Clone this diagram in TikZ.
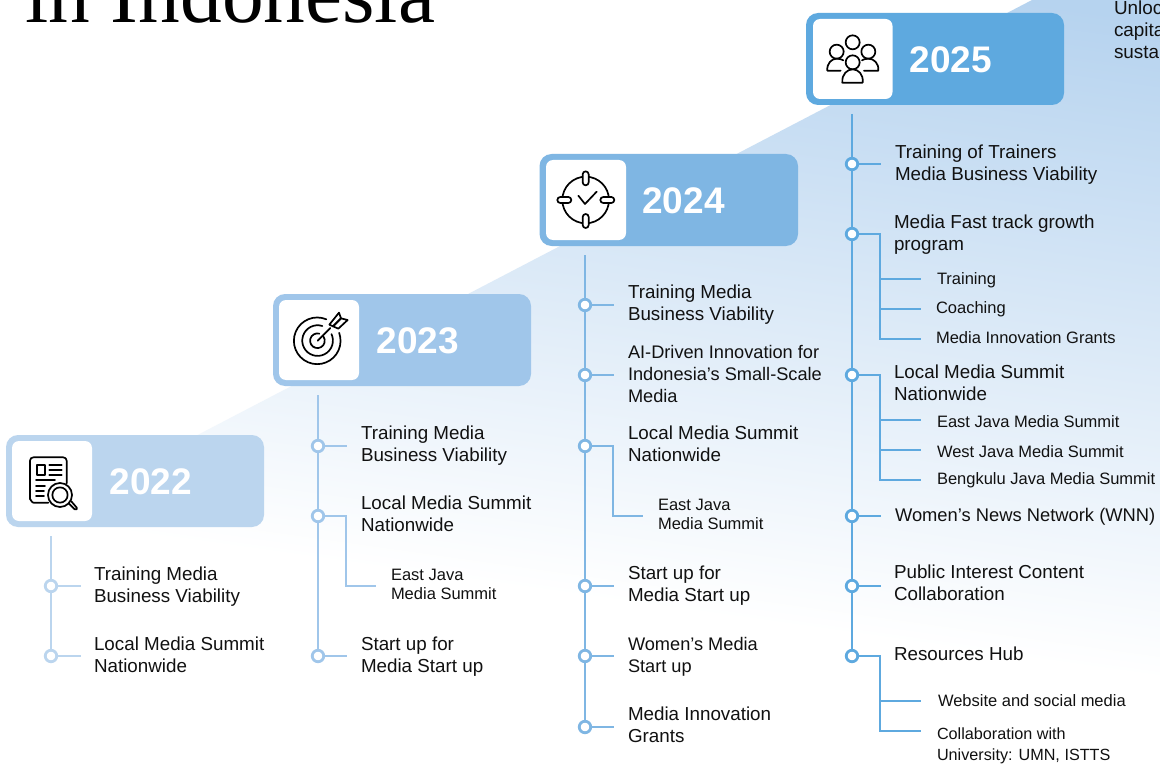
\documentclass[tikz,border=0pt]{standalone}
\usepackage{fontspec}
\setmainfont{Liberation Sans}
\newfontfamily\titleserif{Liberation Serif}
\definecolor{ya}{HTML}{BBD5EE}
\definecolor{yb}{HTML}{A0C6EA}
\definecolor{yc}{HTML}{7FB6E3}
\definecolor{yd}{HTML}{5EA9DF}
\definecolor{bgtop}{HTML}{B6D3EF}
\definecolor{inkblack}{HTML}{111111}
\pgfdeclareverticalshading{wedgefade}{100bp}{color(0bp)=(white); color(39.26bp)=(white); color(71.8bp)=(bgtop); color(100bp)=(bgtop)}
\tikzset{
  lbl/.style={anchor=north west,inner sep=0pt,outer sep=0pt,align=left,text=inkblack,yshift=-0.2pt,font=\fontsize{18.8}{22}\selectfont},
  sublbl/.style={anchor=north west,inner sep=0pt,outer sep=0pt,align=left,text=inkblack,font=\fontsize{16.5}{19}\selectfont},
  card/.style={rounded corners=12pt,draw=none},
  whitecard/.style={fill=white,rounded corners=7pt,draw=none},
  yearlbl/.style={anchor=center,inner sep=0pt,text=white,xshift=0.8pt,yshift=-0.7pt,font=\fontsize{37}{40}\selectfont\bfseries},
  dot/.style={circle,draw=#1,fill=white,line width=2.8pt,minimum size=11.5pt,inner sep=0pt,outer sep=0pt},
  wire/.style={draw=#1,line width=2.8pt},
  ico/.style={draw=black,line width=1.7pt,line cap=round,line join=round},
}
\begin{document}
\begin{tikzpicture}[x=1pt,y=-1pt]
\useasboundingbox (0,0) rectangle (1160,765);
\clip (0,0) rectangle (1160,765);
\fill[white] (0,0) rectangle (1160,765);
% background wedge
\begin{scope}
\clip (1032,0) -- (1160,0) -- (1160,765) -- (0,765) -- (0,538) -- cycle;
\node[inner sep=0pt,outer sep=0pt,transform shape,rotate=-8,scale=20] (bgfade) at (580,380) {\pgfuseshading{wedgefade}};
\end{scope}
% title and cut-off text
\node[anchor=base west,inner sep=0pt,font=\fontsize{83.4}{90}\selectfont\titleserif,text=black] (title) at (25,22.5) {in Indonesia};
\node[lbl,yshift=0.2pt,font=\fontsize{18.9}{22}\selectfont] (side) at (1114,-0.5) {\strut Unloc\\\strut capita\\\strut susta};

% ===== cards
\fill[card,ya] (6,435) rectangle (264,527);
\fill[whitecard] (12,441) rectangle (92,521);
\node[yearlbl] (y22) at (150,481) {2022};
\fill[card,yb] (273,294) rectangle (531,386);
\fill[whitecard] (279,300) rectangle (359,380);
\node[yearlbl] (y23) at (417,340.5) {2023};
\fill[card,yc] (539.5,154) rectangle (798,246);
\fill[whitecard] (546,160) rectangle (626,240);
\node[yearlbl] (y24) at (682.7,200.5) {2024};
\fill[card,yd] (806,13) rectangle (1064,105);
\fill[whitecard] (813,19) rectangle (892.5,99);
\node[yearlbl] (y25) at (950,59.5) {2025};

% ===== icon 2022
\begin{scope}[x=0.33333pt,y=-0.33333pt,shift={(0pt,-420pt)}]
\draw[ico] (145,248) -- (100,248) to[out=180,in=90] (90,238) -- (90,122) to[out=90,in=180] (100,112) -- (190,112) to[out=0,in=90] (200,122) -- (200,190);
\draw[ico] (110,135) rectangle (135,165);
\draw[ico] (148,135) -- (185,135) (148,150) -- (185,150) (148,165) -- (185,165);
\draw[ico] (108,181) -- (165,181) (108,197) -- (135,197) (108,213) -- (132,213) (108,228) -- (132,228);
\draw[ico] (180,225) circle (36);
\draw[ico] (180,225) circle (23);
\draw[ico] (206,250) -- (218,262) to[out=-45,in=-135] (230,268) to[out=45,in=-45] (226,258) -- (214,244);
\end{scope}

% ===== icon 2023
\begin{scope}[x=0.33333pt,y=-0.33333pt,shift={(265pt,-285pt)}]
\draw[ico] (184,103) arc[start angle=-67,end angle=-380,radius=70];
\draw[ico] (172,123) arc[start angle=-72,end angle=-385,radius=46];
\draw[ico] (163,146) arc[start angle=-75,end angle=-395,radius=22];
\draw[ico] (158,167) -- (196,129);
\draw[ico] (193,119) -- (222,83) -- (228,100) -- (204,124) -- (193,119);
\draw[ico] (204,124) -- (228,100) -- (248,105) -- (220,131) -- (204,124);
\end{scope}

% ===== icon 2024
\begin{scope}[x=0.33333pt,y=-0.33333pt,shift={(530pt,-145pt)}]
\draw[ico] (167,165) circle (70);
\foreach \cx/\cy/\hw/\hh in {167/100/9/21,167/228/9/21,103/165/21/9,232/165/21/9}{
  \filldraw[ico,fill=white,rounded corners=3pt] (\cx-\hw,\cy-\hh) rectangle (\cx+\hw,\cy+\hh);
}
\draw[ico] (145,152) -- (165,177) -- (200,140);
\end{scope}

% ===== icon 2025
\begin{scope}[x=0.33333pt,y=-0.33333pt,shift={(800pt,0pt)}]
\draw[ico] (158,127) circle (21);
\draw[ico] (110,155) circle (21);
\draw[ico] (205,155) circle (21);
\draw[ico] (122,212) -- (82,212) .. controls (80,190) and (95,176) .. (110,176) .. controls (118,176) and (125,178) .. (130,181);
\draw[ico] (192,212) -- (235,212) .. controls (237,190) and (222,176) .. (205,176) .. controls (197,176) and (190,178) .. (186,181);
\filldraw[ico,fill=white] (158,187) circle (21);
\draw[ico,fill=white] (127,248) .. controls (125,222) and (142,208) .. (158,208) .. controls (174,208) and (191,222) .. (188,248) -- cycle;
\end{scope}

% ===== 2022 timeline
\coordinate (a0) at (51,536);
\node[dot=ya] (a1) at (51,586) {};
\node[dot=ya] (a2) at (51,656) {};
\coordinate (a1e) at (81,586);
\coordinate (a2e) at (81,656);
\draw[wire=ya] (a0) -- (a1.north);
\draw[wire=ya] (a1.south) -- (a2.north);
\draw[wire=ya] (a1.east) -- (a1e);
\draw[wire=ya] (a2.east) -- (a2e);
\node[lbl] (at1) at (94,565) {\strut Training Media\\\strut Business Viability};
\node[lbl] (at2) at (94,635) {\strut Local Media Summit\\\strut Nationwide};

% ===== 2023 timeline
\coordinate (b0) at (318,395);
\node[dot=yb] (b1) at (318,446) {};
\node[dot=yb] (b2) at (318,516) {};
\node[dot=yb] (b3) at (318,656) {};
\coordinate (b1e) at (347,446);
\coordinate (b3e) at (347,656);
\coordinate (b2c) at (346,586);
\coordinate (b2e) at (376,586);
\draw[wire=yb] (b0) -- (b1.north);
\draw[wire=yb] (b1.south) -- (b2.north);
\draw[wire=yb] (b2.south) -- (b3.north);
\draw[wire=yb] (b1.east) -- (b1e);
\draw[wire=yb] (b3.east) -- (b3e);
\draw[wire=yb,line join=miter] (b2.east) -| (b2c) -- (b2e);
\node[lbl] (bt1) at (361,424) {\strut Training Media\\\strut Business Viability};
\node[lbl] (bt2) at (361,494) {\strut Local Media Summit\\\strut Nationwide};
\node[sublbl] (bt3) at (391,567) {\strut East Java\\\strut Media Summit};
\node[lbl] (bt4) at (361,635) {\strut Start up for\\\strut Media Start up};

% ===== 2024 timeline
\coordinate (c0) at (585,255);
\node[dot=yc] (c1) at (585,305) {};
\node[dot=yc] (c2) at (585,375) {};
\node[dot=yc] (c3) at (585,446) {};
\node[dot=yc] (c4) at (585,586) {};
\node[dot=yc] (c5) at (585,656) {};
\node[dot=yc] (c6) at (585,727) {};
\coordinate (c1e) at (614,305);
\coordinate (c2e) at (614,375);
\coordinate (c4e) at (614,586);
\coordinate (c5e) at (614,656);
\coordinate (c6e) at (614,727);
\coordinate (c3c) at (613,516);
\coordinate (c3e) at (643,516);
\draw[wire=yc] (c0) -- (c1.north);
\draw[wire=yc] (c1.south) -- (c2.north);
\draw[wire=yc] (c2.south) -- (c3.north);
\draw[wire=yc] (c3.south) -- (c4.north);
\draw[wire=yc] (c4.south) -- (c5.north);
\draw[wire=yc] (c5.south) -- (c6.north);
\draw[wire=yc] (c1.east) -- (c1e);
\draw[wire=yc] (c2.east) -- (c2e);
\draw[wire=yc] (c4.east) -- (c4e);
\draw[wire=yc] (c5.east) -- (c5e);
\draw[wire=yc] (c6.east) -- (c6e);
\draw[wire=yc,line join=miter] (c3.east) -| (c3c) -- (c3e);
\node[lbl] (ct1) at (628,283) {\strut Training Media\\\strut Business Viability};
\node[lbl,font=\fontsize{18.2}{22}\selectfont] (ct2) at (628,343) {\strut AI-Driven Innovation for\\\strut Indonesia’s Small-Scale\\\strut Media};
\node[lbl] (ct3) at (628,424) {\strut Local Media Summit\\\strut Nationwide};
\node[sublbl] (ct4) at (658,497) {\strut East Java\\\strut Media Summit};
\node[lbl] (ct5) at (628,564) {\strut Start up for\\\strut Media Start up};
\node[lbl,font=\fontsize{18.2}{22}\selectfont] (ct6) at (628,635) {\strut Women’s Media\\\strut Start up};
\node[lbl] (ct7) at (628,705) {\strut Media Innovation\\\strut Grants};

% ===== 2025 timeline
\coordinate (d0) at (852,114);
\node[dot=yd] (d1) at (852,164) {};
\node[dot=yd] (d2) at (852,234) {};
\node[dot=yd] (d3) at (852,375) {};
\node[dot=yd] (d4) at (852,516) {};
\node[dot=yd] (d5) at (852,586) {};
\node[dot=yd] (d6) at (852,656) {};
\coordinate (d1e) at (881,164);
\coordinate (d4e) at (881,516);
\coordinate (d5e) at (881,586);
\coordinate (e1) at (880,279); \coordinate (e1e) at (921,279);
\coordinate (e2) at (880,309); \coordinate (e2e) at (921,309);
\coordinate (e3) at (880,339); \coordinate (e3e) at (921,339);
\coordinate (f1) at (880,420); \coordinate (f1e) at (921,420);
\coordinate (f2) at (880,450); \coordinate (f2e) at (921,450);
\coordinate (f3) at (880,480); \coordinate (f3e) at (921,480);
\coordinate (g1) at (880,701); \coordinate (g1e) at (921,701);
\coordinate (g2) at (880,731); \coordinate (g2e) at (921,731);
\draw[wire=yd] (d0) -- (d1.north);
\draw[wire=yd] (d1.south) -- (d2.north);
\draw[wire=yd] (d2.south) -- (d3.north);
\draw[wire=yd] (d3.south) -- (d4.north);
\draw[wire=yd] (d4.south) -- (d5.north);
\draw[wire=yd] (d5.south) -- (d6.north);
\draw[wire=yd] (d1.east) -- (d1e);
\draw[wire=yd] (d4.east) -- (d4e);
\draw[wire=yd] (d5.east) -- (d5e);
\draw[wire=yd,line join=miter] (d2.east) -| (e3) -- (e3e);
\draw[wire=yd] (e1) -- (e1e);
\draw[wire=yd] (e2) -- (e2e);
\draw[wire=yd,line join=miter] (d3.east) -| (f3) -- (f3e);
\draw[wire=yd] (f1) -- (f1e);
\draw[wire=yd] (f2) -- (f2e);
\draw[wire=yd,line join=miter] (d6.east) -| (g2) -- (g2e);
\draw[wire=yd] (g1) -- (g1e);
\node[lbl] (dt1) at (895,143) {\strut Training of Trainers\\\strut Media Business Viability};
\node[lbl] (dt2) at (894,213) {\strut Media Fast track growth\\\strut program};
\node[sublbl] (dt3) at (937,271.5) {\strut Training};
\node[sublbl] (dt4) at (936,300.5) {\strut Coaching};
\node[sublbl] (dt5) at (936,330.5) {\strut Media Innovation Grants};
\node[lbl] (dt6) at (894,363) {\strut Local Media Summit\\\strut Nationwide};
\node[sublbl] (dt7) at (937,414) {\strut East Java Media Summit};
\node[sublbl] (dt8) at (937,444) {\strut West Java Media Summit};
\node[sublbl] (dt9) at (937,471.5) {\strut Bengkulu Java Media Summit};
\node[lbl,font=\fontsize{18.35}{22}\selectfont] (dt10) at (895,506) {\strut Women’s News Network (WNN)};
\node[lbl] (dt11) at (894,563) {\strut Public Interest Content\\\strut Collaboration};
\node[lbl] (dt12) at (894,645) {\strut Resources Hub};
\node[sublbl] (dt13) at (938,693) {\strut Website and social media};
\node[sublbl,font=\fontsize{16.2}{21}\selectfont] (dt14) at (937,725) {\strut Collaboration with\\\strut University: UMN, ISTTS};
\end{tikzpicture}
\end{document}
